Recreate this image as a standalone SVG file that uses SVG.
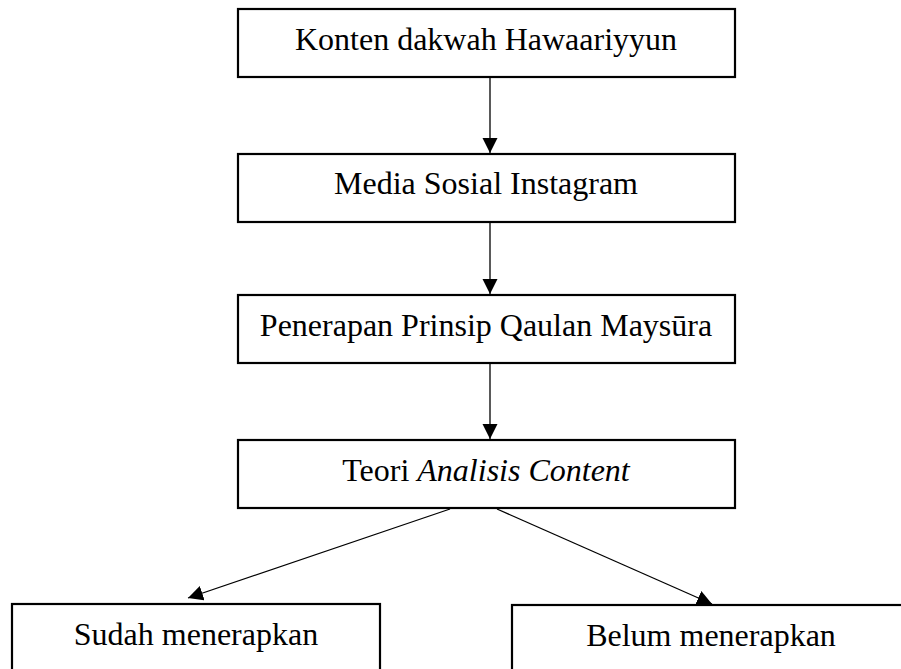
<svg xmlns="http://www.w3.org/2000/svg" width="901" height="669" viewBox="0 0 901 669">
<style>
.box{fill:#fff;stroke:#000;stroke-width:2.2}
.lbl{font-family:"Liberation Serif","Times New Roman",serif;font-size:32px;fill:#000;text-anchor:middle}
.con{stroke:#000;stroke-width:1.3;fill:none}
</style>
<defs>
<marker id="ah" markerUnits="userSpaceOnUse" markerWidth="16" markerHeight="16" refX="15" refY="7.5" orient="auto">
<path d="M0,0 L15,7.5 L0,15 Z" fill="#000"/>
</marker>
</defs>
<rect width="901" height="669" fill="#fff"/>
<g id="connectors">
<line class="con" x1="490" y1="78" x2="490" y2="153" marker-end="url(#ah)"/>
<line class="con" x1="490" y1="223" x2="490" y2="294" marker-end="url(#ah)"/>
<line class="con" x1="490" y1="364" x2="490" y2="439" marker-end="url(#ah)"/>
<line class="con" x1="450" y1="509" x2="188" y2="598" marker-end="url(#ah)"/>
<line class="con" x1="497" y1="509" x2="712" y2="604" marker-end="url(#ah)"/>
</g>
<g id="n1">
<rect class="box" x="238" y="9" width="497" height="68"/>
<text class="lbl" x="486" y="50">Konten dakwah Hawaariyyun</text>
</g>
<g id="n2">
<rect class="box" x="238" y="154" width="497" height="68"/>
<text class="lbl" x="486" y="194">Media Sosial Instagram</text>
</g>
<g id="n3">
<rect class="box" x="238" y="295" width="497" height="68"/>
<text class="lbl" x="486" y="336">Penerapan Prinsip Qaulan Maysūra</text>
</g>
<g id="n4">
<rect class="box" x="238" y="440" width="497" height="68"/>
<text class="lbl" x="486" y="481">Teori <tspan font-style="italic">Analisis Content</tspan></text>
</g>
<g id="n5">
<rect class="box" x="12" y="604" width="368" height="80"/>
<text class="lbl" x="196" y="645">Sudah menerapkan</text>
</g>
<g id="n6">
<rect class="box" x="512" y="605" width="400" height="80"/>
<text class="lbl" x="711" y="646">Belum menerapkan</text>
</g>
</svg>
